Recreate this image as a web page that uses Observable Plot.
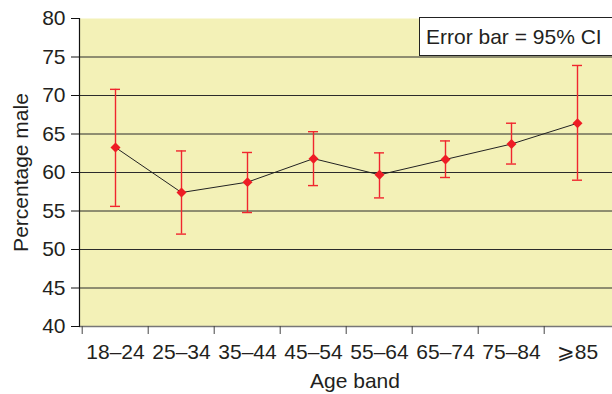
<!DOCTYPE html>
<html><head><meta charset="utf-8">
<script src="https://cdn.jsdelivr.net/npm/d3@7"></script>
<script src="https://cdn.jsdelivr.net/npm/@observablehq/plot@0.6"></script>
<style>
body{margin:0;background:#fff;}
#wrap{position:relative;width:612px;height:394px;font-family:"Liberation Sans",Arial,sans-serif;}
#legend{position:absolute;left:419px;top:17px;width:191px;height:37px;border:1px solid #222;background:#fff;
  font-size:21px;color:#231f20;line-height:37px;padding-left:6px;box-sizing:content-box;white-space:nowrap;}
</style></head>
<body><div id="wrap"><div id="legend"></div></div>
<script>
const ageBands = ["18–24","25–34","35–44","45–54","55–64","65–74","75–84","⩾85"];
const percentMale = [63.25, 57.4, 58.75, 61.8, 59.7, 61.7, 63.7, 66.4];
const ciLower = [55.6, 52.0, 54.8, 58.3, 56.7, 59.35, 61.1, 59.0];
const ciUpper = [70.8, 62.8, 62.6, 65.3, 62.55, 64.1, 66.4, 73.9];
const yTicks = [40, 45, 50, 55, 60, 65, 70, 75, 80];
const gridLines = [45, 50, 55, 60, 65, 70, 75];
const legendText = "Error bar = 95% CI";
const xTitle = "Age band";
const yTitle = "Percentage male";

const data = ageBands.map((a, i) => ({age: a, pct: percentMale[i], lo: ciLower[i], hi: ciUpper[i]}));
const textColor = "#231f20";
const errColor = "#f0262e";

const chart = Plot.plot({
  width: 612, height: 394,
  marginLeft: 79, marginRight: 0, marginTop: 18, marginBottom: 68,
  style: {fontFamily: "Liberation Sans, Arial, sans-serif", fontSize: "21px", color: textColor, background: "transparent"},
  x: {type: "band", domain: ageBands, padding: 0},
  y: {domain: [40, 80]},
  marks: [
    Plot.frame({fill: "#f3f1b7", stroke: null}),
    Plot.ruleY(gridLines, {stroke: "#2b2b2b", strokeWidth: 1}),
    Plot.ruleY([40], {stroke: "#777", strokeWidth: 1.6}),
    Plot.frame({anchor: "left", stroke: "#111", strokeWidth: 1.2}),
    Plot.axisY({ticks: yTicks, tickSize: 8, tickPadding: 6, stroke: "#111", fontSize: 21,
      label: yTitle, labelAnchor: "center", labelArrow: "none", labelOffset: 66}),
    Plot.axisX({tickSize: 8, tickFormat: () => "", dx: -33.3, stroke: "#444", label: null}),
    Plot.axisX({tickSize: 0, tickPadding: 18, fontSize: 21, label: null}),
    Plot.text([xTitle], {frameAnchor: "bottom", lineAnchor: "middle", dy: 55, dx: 9, fontSize: 21, fill: textColor}),
    Plot.ruleX(data, {x: "age", y1: "lo", y2: "hi", stroke: errColor, strokeWidth: 1.4}),
    Plot.tickY(data, {x: "age", y: "hi", stroke: errColor, strokeWidth: 1.4, inset: 28}),
    Plot.tickY(data, {x: "age", y: "lo", stroke: errColor, strokeWidth: 1.4, inset: 28}),
    Plot.line(data, {x: "age", y: "pct", stroke: "#222", strokeWidth: 1}),
    Plot.dot(data, {x: "age", y: "pct", symbol: "diamond2", r: 4.5, fill: "#ee1c25", stroke: "none"})
  ]
});
chart.style.position = "absolute";
chart.style.left = "0";
chart.style.top = "0";
const wrap = document.getElementById("wrap");
wrap.insertBefore(chart, wrap.firstChild);
document.getElementById("legend").textContent = legendText;
</script>
</body></html>
